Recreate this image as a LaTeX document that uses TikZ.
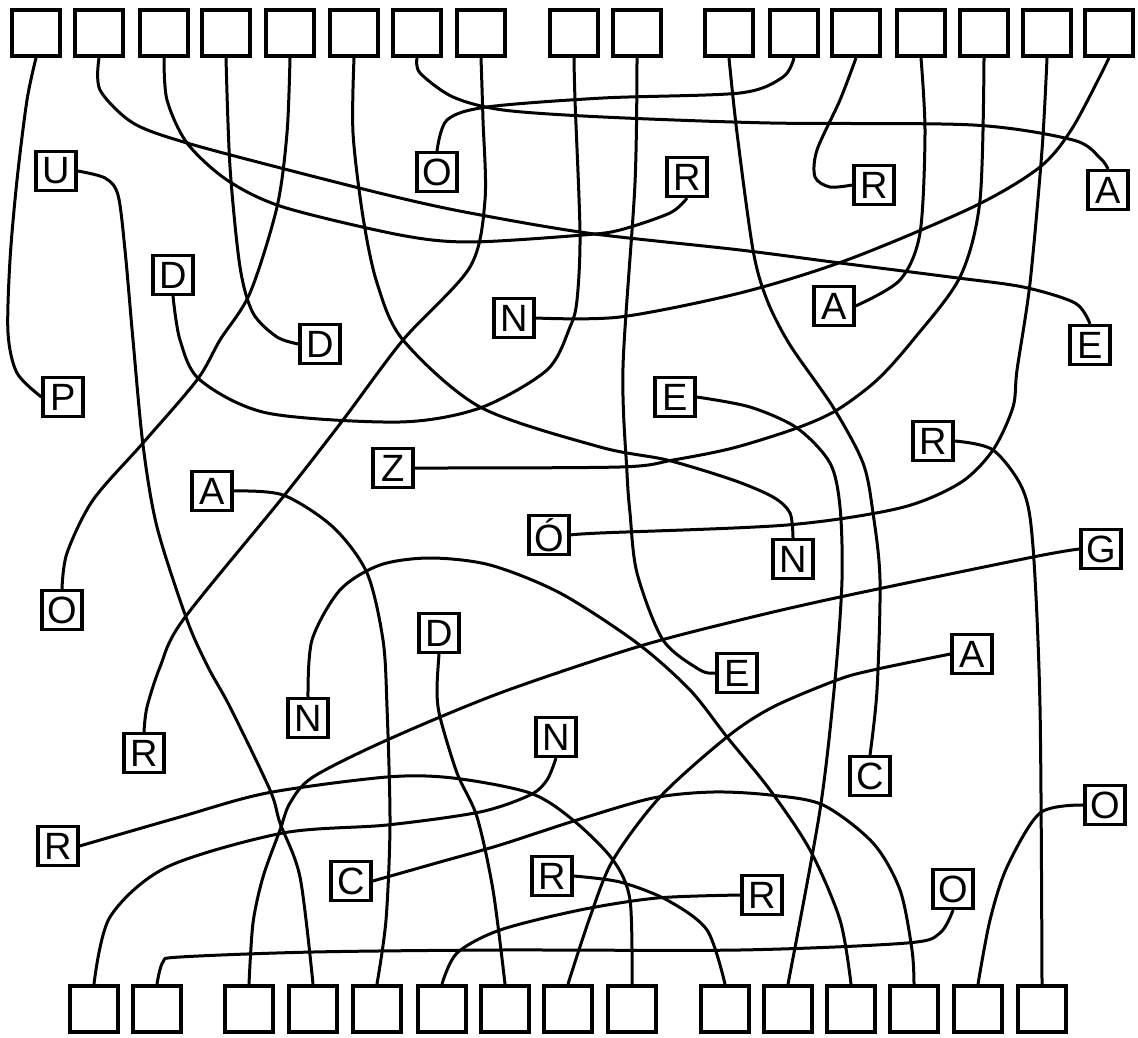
\documentclass[tikz,border=0pt]{standalone}
\usepackage{fontspec}
\setmainfont{Liberation Sans}
\begin{document}
\begin{tikzpicture}[x=0.5pt,y=-0.5pt,
    slot/.style={draw,line width=2pt,minimum width=24pt,minimum height=23pt,inner sep=0pt},
    letter/.style={draw,line width=1.6pt,minimum width=20pt,minimum height=19.5pt,inner sep=0pt,font=\fontsize{19}{19}\selectfont},
    wire/.style={line width=1.5pt,line join=round}]
    \useasboundingbox (0,0) rectangle (1138,1037);
    % top boxes
    \node[slot] (t1) at (36,33) {};\node[slot] (t2) at (99,33) {};\node[slot] (t3) at (164,33) {};\node[slot] (t4) at (226,33) {};
    \node[slot] (t5) at (290,33) {};\node[slot] (t6) at (354,33) {};\node[slot] (t7) at (417,33) {};\node[slot] (t8) at (481,33) {};
    \node[slot] (t9) at (574,33) {};\node[slot] (t10) at (637,33) {};
    \node[slot] (t11) at (729,33) {};\node[slot] (t12) at (794,33) {};\node[slot] (t13) at (856,33) {};\node[slot] (t14) at (921,33) {};
    \node[slot] (t15) at (984,33) {};\node[slot] (t16) at (1047,33) {};\node[slot] (t17) at (1109,33) {};
    % bottom boxes
    \node[slot] (b1) at (94,1009) {};\node[slot] (b2) at (157,1009) {};
    \node[slot] (b3) at (249,1009) {};\node[slot] (b4) at (313,1009) {};\node[slot] (b5) at (377,1009) {};\node[slot] (b6) at (442,1009) {};
    \node[slot] (b7) at (505,1009) {};\node[slot] (b8) at (568,1009) {};\node[slot] (b9) at (632,1009) {};
    \node[slot] (b10) at (725,1009) {};\node[slot] (b11) at (788,1009) {};\node[slot] (b12) at (851,1009) {};\node[slot] (b13) at (914,1009) {};
    \node[slot] (b14) at (978,1009) {};\node[slot] (b15) at (1042,1009) {};
    % letters for the top row
    \node[letter] (P1) at (63,397) {P};\node[letter] (E2) at (1090,345) {E};\node[letter] (R3) at (687,177) {R};
    \node[letter] (D4) at (320,344) {D};\node[letter] (O5) at (62,610) {O};\node[letter] (N6) at (793,559) {N};
    \node[letter] (A7) at (1108,190) {A};\node[letter] (R8) at (144,753) {R};\node[letter] (D9) at (173,275) {D};
    \node[letter] (E10) at (737,673) {E};\node[letter] (C11) at (870,776) {C};\node[letter] (O12) at (437,172) {O};
    \node[letter] (R13) at (874,185) {R};\node[letter] (A14) at (834,306) {A};\node[letter] (Z15) at (393,468) {Z};
    \node[letter] (O16) at (549,535) {Ó};\node[letter] (N17) at (514,318) {N};
    % letters for the bottom row
    \node[letter] (n1) at (556,737) {N};\node[letter] (o2) at (953,889) {O};\node[letter] (g3) at (1101,549) {G};
    \node[letter] (u4) at (56,171) {U};\node[letter] (a5) at (212,491) {A};\node[letter] (r6) at (762,895) {R};
    \node[letter] (d7) at (439,633) {D};\node[letter] (a8) at (972,654) {A};\node[letter] (r9) at (58,846) {R};
    \node[letter] (r10) at (552,876) {R};\node[letter] (e11) at (675,397) {E};\node[letter] (n12) at (308,718) {N};
    \node[letter] (c13) at (351,881) {C};\node[letter] (o14) at (1105,805) {O};\node[letter] (r15) at (933,441) {R};
    % wires from the top row
    \draw[wire] plot[smooth] coordinates {(t1.south) (27,100) (17,180) (10,260) (8,333) (17,373) (P1.west)};
    \draw[wire] plot[smooth] coordinates {(t2.south) (100,90) (133,123) (187,143) (300,173) (400,198) (470,213) (587,233) (740,250) (840,263) (950,277) (1023,287) (1075,303) (E2.north)};
    \draw[wire] plot[smooth] coordinates {(t3.south) (167,100) (187,143) (227,180) (283,207) (400,235) (470,242) (583,235) (620,230) (670,213) (R3.south)};
    \draw[wire] plot[smooth] coordinates {(t4.south) (230,167) (240,267) (253,313) (277,337) (D4.west)};
    \draw[wire] plot[smooth] coordinates {(t5.south) (287,133) (277,207) (250,293) (220,340) (197,380) (143,443) (93,500) (67,553) (O5.north)};
    \draw[wire] plot[smooth] coordinates {(t6.south) (353,133) (363,217) (377,283) (403,340) (480,407) (600,447) (667,460) (733,480) (773,497) (790,513) (N6.north)};
    \draw[wire] plot[smooth] coordinates {(t7.south) (420,73) (453,97) (503,110) (603,117) (770,123) (973,125) (1073,140) (1100,158) (A7.north)};
    \draw[wire] plot[smooth] coordinates {(t8.south) (483,120) (485,200) (470,267) (403,340) (343,420) (283,497) (183,620) (160,667) (147,707) (R8.north)};
    \draw[wire] plot[smooth] coordinates {(t9.south) (575,100) (580,233) (577,300) (570,327) (547,370) (480,408) (400,422) (267,413) (200,380) (180,340) (D9.south)};
    \draw[wire] plot[smooth] coordinates {(t10.south) (635,183) (623,367) (627,473) (630,513) (637,573) (663,640) (700,670) (E10.west)};
    \draw[wire] plot[smooth] coordinates {(t11.south) (737,133) (753,250) (767,300) (790,345) (833,407) (863,463) (873,513) (880,580) (877,690) (C11.north)};
    \draw[wire] plot[smooth] coordinates {(t12.south) (783,77) (740,93) (603,98) (487,107) (447,120) (O12.north)};
    \draw[wire] plot[smooth] coordinates {(t13.south) (840,100) (817,150) (815,177) (830,187) (R13.west)};
    \draw[wire] plot[smooth] coordinates {(t14.south) (925,133) (920,233) (900,280) (A14.east)};
    \draw[wire] plot[smooth] coordinates {(t15.south) (980,200) (960,277) (913,340) (877,380) (837,410) (797,428) (733,448) (673,460) (620,467) (Z15.east)};
    \draw[wire] plot[smooth] coordinates {(t16.south) (1042,150) (1030,283) (1017,370) (1013,407) (993,450) (960,483) (900,508) (787,525) (600,533) (O16.east)};
    \draw[wire] plot[smooth] coordinates {(t17.south) (1073,127) (1040,167) (973,207) (847,260) (740,293) (620,317) (N17.east)};
    % wires from the bottom row
    \draw[wire] plot[smooth] coordinates {(b1.north) (110,917) (167,867) (283,833) (387,825) (480,812) (530,795) (547,780) (n1.south)};
    \draw[wire] plot[smooth] coordinates {(b2.north) (163,962) (180,957) (313,952) (500,950) (740,950) (907,943) (940,933) (o2.south)};
    \draw[wire] plot[smooth] coordinates {(b3.north) (253,923) (263,877) (280,830) (290,803) (313,777) (387,740) (500,693) (637,647) (740,620) (840,597) (1033,557) (g3.west)};
    \draw[wire] plot[smooth] coordinates {(u4.east) (105,178) (118,195) (125,250) (133,340) (143,445) (157,527) (187,620) (208,667) (230,707) (270,790) (280,823) (300,877) (b4.north)};
    \draw[wire] plot[smooth] coordinates {(a5.east) (283,495) (333,527) (367,573) (383,640) (387,707) (390,823) (386,920) (b5.north)};
    \draw[wire] plot[smooth] coordinates {(r6.west) (657,898) (580,910) (500,930) (457,953) (b6.north)};
    \draw[wire] plot[smooth] coordinates {(d7.south) (437,690) (440,717) (457,773) (477,817) (493,890) (b7.north)};
    \draw[wire] plot[smooth] coordinates {(a8.west) (873,670) (837,680) (773,707) (727,737) (660,797) (613,860) (590,917) (b8.north)};
    \draw[wire] plot[smooth] coordinates {(r9.east) (180,817) (267,793) (387,777) (453,778) (530,793) (573,820) (613,860) (630,900) (b9.north)};
    \draw[wire] plot[smooth] coordinates {(r10.east) (620,882) (667,900) (707,930) (b10.north)};
    \draw[wire] plot[smooth] coordinates {(e11.east) (750,407) (797,428) (830,463) (840,507) (842,580) (835,680) (820,810) (b11.north)};
    \draw[wire] plot[smooth] coordinates {(n12.north) (312,640) (340,590) (380,565) (430,558) (490,565) (560,593) (637,643) (690,690) (727,737) (770,790) (810,850) (840,920) (b12.north)};
    \draw[wire] plot[smooth] coordinates {(c13.east) (387,877) (440,862) (500,845) (577,820) (653,798) (713,792) (770,795) (823,805) (873,843) (900,890) (912,950) (b13.north)};
    \draw[wire] plot[smooth] coordinates {(o14.west) (1040,813) (1007,867) (990,920) (b14.north)};
    \draw[wire] plot[smooth] coordinates {(r15.east) (993,450) (1023,490) (1033,547) (1040,707) (b15.north)};
\end{tikzpicture}
\end{document}
